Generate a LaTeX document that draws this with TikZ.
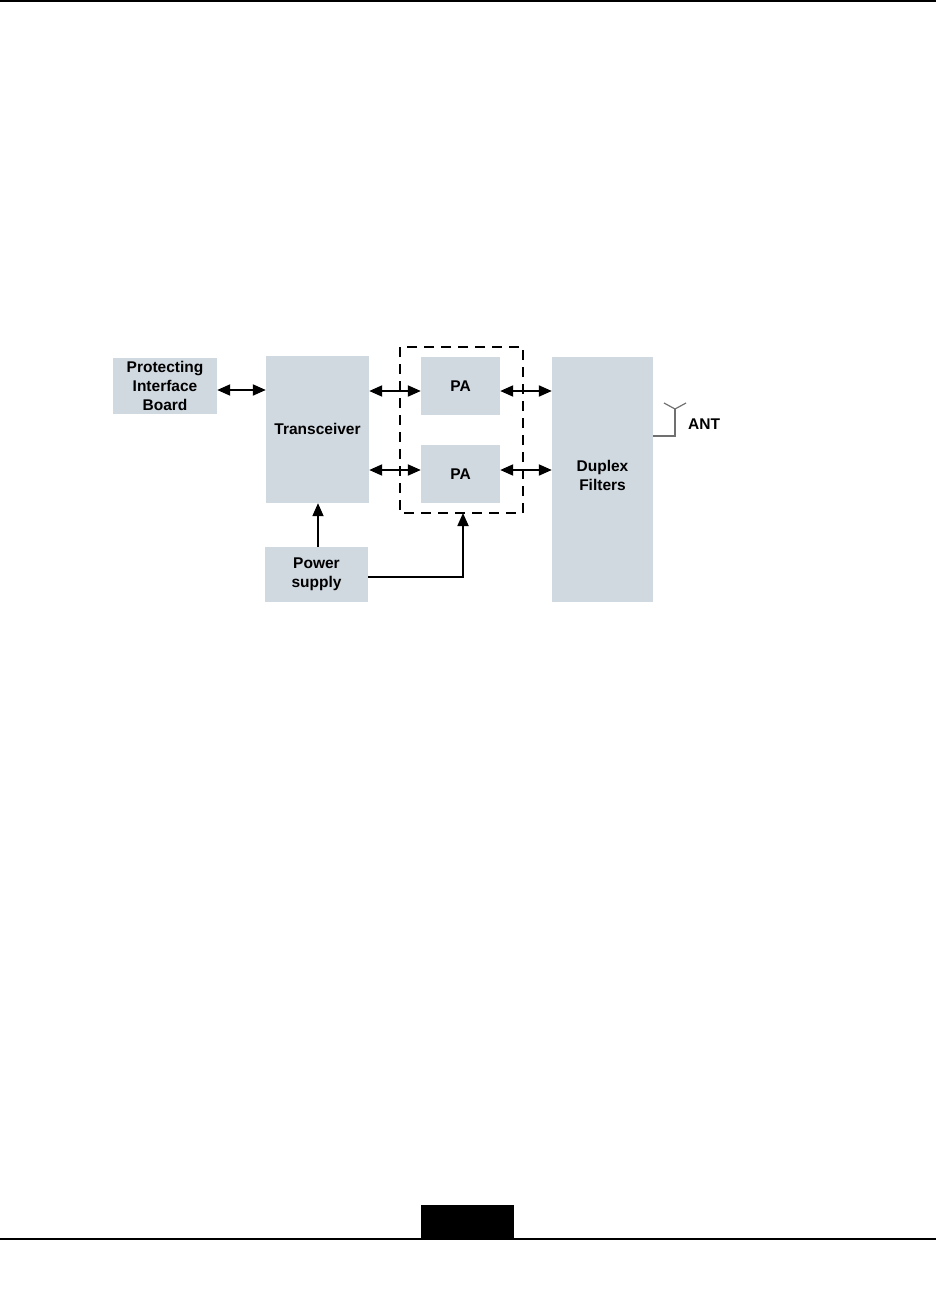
\documentclass[tikz,border=0pt]{standalone}
\usepackage{fontspec}
\setmainfont{Liberation Sans}
\usetikzlibrary{arrows.meta}
\definecolor{boxfill}{HTML}{D0D8E0}
\definecolor{antgray}{HTML}{707070}
\begin{document}
\begin{tikzpicture}[x=1pt,y=-1pt,
  lbl/.style={font=\fontsize{15.5}{19}\selectfont\bfseries, align=center, inner sep=0pt},
  blk/.style={fill=boxfill, draw=none, inner sep=0pt, lbl},
  arr/.style={line width=2pt, {Triangle[length=13pt,width=11pt]}-{Triangle[length=13pt,width=11pt]}},
  uarr/.style={line width=1.8pt, -{Triangle[length=13pt,width=11pt]}},
  dashbox/.style={draw=black, line width=2pt, dash pattern=on 10pt off 7pt}]
\useasboundingbox (0,0) rectangle (936,1289);
% page rules
\fill[black] (0,0) rectangle (936,2);
\fill[black] (421,1205) rectangle (514,1238);
\fill[black] (0,1237.7) rectangle (936,1240.3);
% blocks
\node[blk, minimum width=104pt, minimum height=56pt] (pib) at (165,386) {Protecting\\Interface\\Board};
\node[blk, minimum width=103pt, minimum height=147pt] (tr) at (317.5,429.5) {\raisebox{2pt}{Transceiver}};
\node[blk, minimum width=79pt, minimum height=58pt] (pa1) at (460.5,386) {PA};
\node[blk, minimum width=79pt, minimum height=58pt] (pa2) at (460.5,474) {PA};
\node[blk, minimum width=101pt, minimum height=245pt] (dup) at (602.5,479.5) {};
\node[lbl] (duptext) at (602.5,475) {Duplex\\Filters};
\node[blk, minimum width=103pt, minimum height=55pt] (ps) at (316.5,574.5) {Power\\supply};
% dashed PA group
\draw[dashbox] (400,347) rectangle (523,513);
\coordinate (dbot) at (463,513);
% connectors
\draw[arr] (pib.east |- 0,390) -- (tr.west |- 0,390);
\draw[arr] (tr.east |- 0,391) -- (pa1.west |- 0,391);
\draw[arr] (tr.east |- 0,470) -- (pa2.west |- 0,470);
\draw[arr] (pa1.east |- 0,391) -- (dup.west |- 0,391);
\draw[arr] (pa2.east |- 0,470) -- (dup.west |- 0,470);
\draw[uarr] (ps.north -| 318,0) -- (tr.south -| 318,0);
\draw[uarr] (ps.east |- 0,577) -| (dbot);
% antenna
\coordinate (a0) at (675,436);
\coordinate (a1) at (675,409);
\draw[antgray, line width=1.4pt] (dup.east |- a0) -- (a0) -- (a1);
\draw[antgray, line width=1.2pt] (664,403) -- (a1) -- (686,403);
\node[lbl, anchor=west] (ant) at (688,424) {ANT};
\end{tikzpicture}
\end{document}
